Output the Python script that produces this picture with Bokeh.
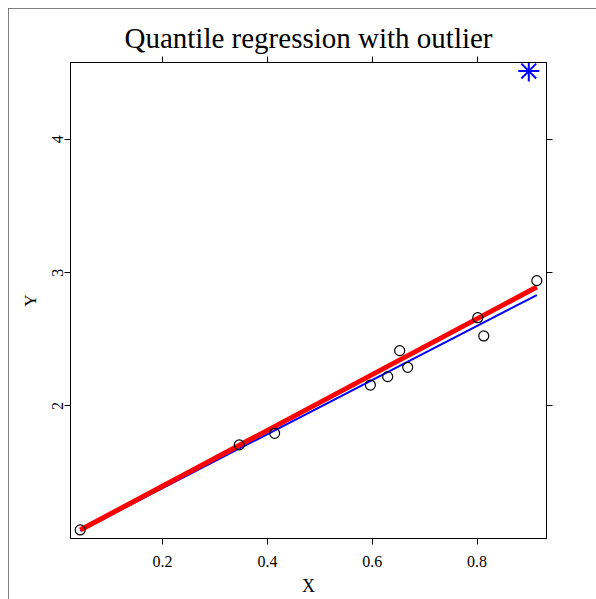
import numpy as np
from bokeh.plotting import figure
from bokeh.models import LinearAxis, FixedTicker, Range1d, ColumnDataSource
from bokeh.embed import file_html
from bokeh.resources import INLINE

# ---- data ----
x_pts = [0.0428, 0.3463, 0.4137, 0.5964, 0.6294, 0.6523, 0.6676, 0.8013, 0.8127, 0.9139]
y_pts = [1.070, 1.708, 1.795, 2.157, 2.220, 2.415, 2.290, 2.662, 2.525, 2.940]
x_outlier = [0.8986]
y_outlier = [4.512]
# fitted lines: (intercept, slope)
red_fit = (0.9805, 2.0916)
blue_fit = (0.978, 2.028)
x_ticks = [0.2, 0.4, 0.6, 0.8]
y_ticks = [2, 3, 4]
x_lims = (0.0243, 0.9324)
y_lims = (1.006, 4.576)

FONT = "Liberation Serif"

p = figure(width=588, height=591, output_backend="svg", toolbar_location=None,
           x_range=Range1d(*x_lims), y_range=Range1d(*y_lims),
           min_border_left=62, min_border_right=50, min_border_top=54, min_border_bottom=61,
           x_axis_location=None, y_axis_location=None)
p.margin = (8, 0, 0, 8)
p.title.text = "Quantile regression with outlier"
p.title.text_font = FONT
p.title.text_font_size = "29px"
p.title.text_font_style = "normal"
p.title.align = "center"
p.title.text_color = "black"
p.title.standoff = 5
p.grid.visible = False
p.outline_line_color = "black"
p.outline_line_width = 1
p.background_fill_color = "white"
p.border_fill_color = "white"
p.styles = {"outline": "1px solid #555555", "outline-offset": "-1px"}


def style_axis(ax, labels=True):
    ax.axis_line_color = "black"
    ax.major_tick_line_color = "black"
    ax.major_tick_out = 6
    ax.major_tick_in = 0
    ax.minor_tick_line_color = None
    ax.major_label_text_font = FONT
    ax.major_label_text_color = "black"
    ax.axis_label_text_font = FONT
    ax.axis_label_text_font_style = "normal"
    ax.axis_label_text_color = "black"
    if not labels:
        ax.major_label_text_font_size = "0px"
        ax.major_label_text_color = None
        ax.major_label_standoff = 0


bottom = LinearAxis(ticker=FixedTicker(ticks=x_ticks), axis_label="X")
style_axis(bottom)
bottom.major_label_text_font_size = "16px"
bottom.major_label_standoff = 11
bottom.axis_label_text_font_size = "18px"
bottom.axis_label_standoff = 6
p.add_layout(bottom, "below")

top = LinearAxis(ticker=FixedTicker(ticks=x_ticks))
style_axis(top, labels=False)
p.add_layout(top, "above")

left = LinearAxis(ticker=FixedTicker(ticks=y_ticks), axis_label="Y")
style_axis(left)
left.major_label_text_font_size = "16px"
left.major_label_orientation = "parallel"
left.major_label_standoff = 1
left.axis_label_text_font_size = "17px"
left.axis_label_standoff = 10
p.add_layout(left, "left")

right = LinearAxis(ticker=FixedTicker(ticks=y_ticks))
style_axis(right, labels=False)
p.add_layout(right, "right")

# fitted lines over the data span
xs = np.array([min(x_pts), max(x_pts)])
p.line(xs, blue_fit[0] + blue_fit[1] * xs, line_color="#0000FF", line_width=2)
p.line(xs, red_fit[0] + red_fit[1] * xs, line_color="#FF0000", line_width=5)

src = ColumnDataSource(data=dict(x=x_pts, y=y_pts))
p.scatter("x", "y", source=src, marker="circle", size=10, fill_color=None,
          line_color="black", line_width=1.2)
p.scatter(x_outlier, y_outlier, marker="asterisk", size=21, line_color="#0000FF", line_width=2)

open("out.html", "w").write(file_html(p, INLINE))
